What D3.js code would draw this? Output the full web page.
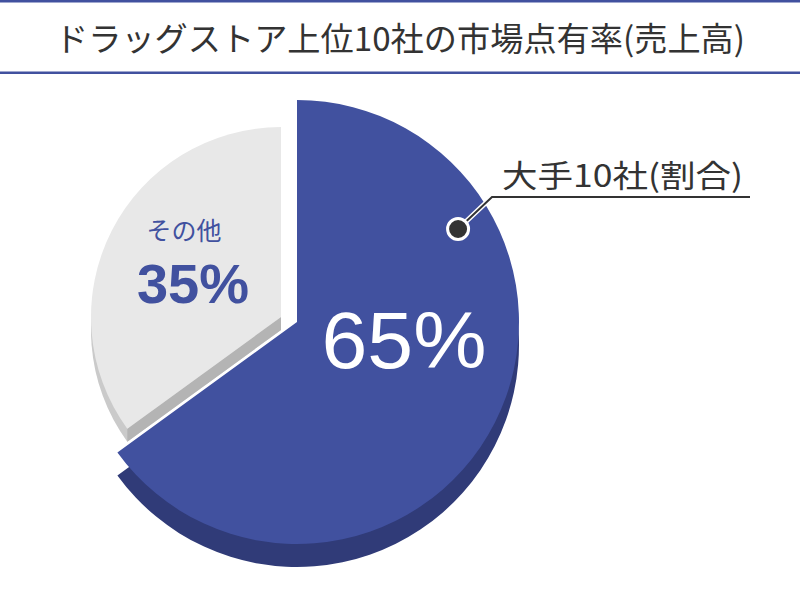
<!DOCTYPE html>
<html>
<head>
<meta charset="utf-8">
<script src="https://cdn.jsdelivr.net/npm/d3@7"></script>
<style>
  html, body { margin: 0; padding: 0; background: #fff; }
  svg { display: block; }
</style>
</head>
<body>
<svg id="chart" width="800" height="600"></svg>
<script>
// ---- data ----
const title = "ドラッグストア上位10社の市場点有率(売上高)";
const categories = ["大手10社(割合)", "その他"];
const shareValues = [65, 35];
const shareLabels = ["65%", "35%"];

// ---- styling ----
const blue = "#41519f";
const blueSide = "#303b78";
const gray = "#e8e8e8";
const grayArcSide = "#cacaca";
const grayEdgeSide = "#b4b4b4";
const textDark = "#333333";

const svg = d3.select("#chart");

// header lines
svg.append("rect").attr("x", 0).attr("y", 0).attr("width", 800).attr("height", 2.5).attr("fill", blue);
svg.append("rect").attr("x", 0).attr("y", 71.5).attr("width", 800).attr("height", 2.5).attr("fill", blue);

svg.append("text")
  .attr("x", 400).attr("y", 37)
  .attr("text-anchor", "middle")
  .attr("dominant-baseline", "central")
  .attr("font-family", "'Noto Sans CJK JP', 'Noto Sans', sans-serif")
  .attr("font-size", 33)
  .attr("textLength", 690)
  .attr("lengthAdjust", "spacingAndGlyphs")
  .attr("fill", textDark)
  .text(title);

// ---- pie ----
const data = categories.map((c, i) => ({ name: c, value: shareValues[i], label: shareLabels[i] }));
const pie = d3.pie().sort(null).value(d => d.value);
const arcs = pie(data);

// geometry per slice (main slice and exploded/smaller slice)
const geo = [
  { cx: 297, cy: 322, r: 222, depth: 23, face: blue, side: blueSide, edge: blueSide },
  { cx: 281, cy: 317, r: 190, depth: 13, face: gray, side: grayArcSide, edge: grayEdgeSide }
];

function drawSlice(a, g) {
  const arcGen = d3.arc().innerRadius(0).outerRadius(g.r);
  const grp = svg.append("g");
  // extrusion (outer wall)
  grp.append("path")
    .attr("transform", `translate(${g.cx},${g.cy + g.depth})`)
    .attr("d", arcGen(a))
    .attr("fill", g.side);
  // straight edge wall for start angle edge
  const ang = a.startAngle;
  const ex = g.cx + Math.sin(ang) * g.r, ey = g.cy - Math.cos(ang) * g.r;
  if (a.index === 1) {
    grp.append("path")
      .attr("d", d3.line()([[g.cx, g.cy], [ex, ey], [ex, ey + g.depth], [g.cx, g.cy + g.depth]]) + "Z")
      .attr("fill", g.edge);
  }
  // top face
  grp.append("path")
    .attr("transform", `translate(${g.cx},${g.cy})`)
    .attr("d", arcGen(a))
    .attr("fill", g.face);
}

// draw the small slice first, then the main slice
drawSlice(arcs[1], geo[1]);
drawSlice(arcs[0], geo[0]);

// ---- labels ----
svg.append("text")
  .attr("x", 404).attr("y", 368)
  .attr("text-anchor", "middle")
  .attr("font-family", "'Liberation Sans', Arial, sans-serif")
  .attr("font-size", 80)
  .attr("textLength", 165)
  .attr("lengthAdjust", "spacingAndGlyphs")
  .attr("fill", "#ffffff")
  .text(arcs[0].data.label);

svg.append("text")
  .attr("x", 184).attr("y", 228.5)
  .attr("text-anchor", "middle")
  .attr("dominant-baseline", "central")
  .attr("font-family", "'Noto Sans CJK JP', sans-serif")
  .attr("font-size", 25)
  .attr("fill", blue)
  .text(arcs[1].data.name);

svg.append("text")
  .attr("x", 193).attr("y", 303)
  .attr("text-anchor", "middle")
  .attr("font-family", "'Liberation Sans', Arial, sans-serif")
  .attr("font-weight", "bold")
  .attr("font-size", 56)
  .attr("fill", blue)
  .text(arcs[1].data.label);

// callout for main slice
const g0 = geo[0];
const calloutAngle = Math.PI / 3;
const dotR = 186;
const dot = [g0.cx + Math.sin(calloutAngle) * dotR, g0.cy - Math.cos(calloutAngle) * dotR];
const elbow = [492, 197];
svg.append("path")
  .attr("d", d3.line()([dot, elbow, [750, 197]]))
  .attr("fill", "none")
  .attr("stroke", "#ffffff")
  .attr("stroke-width", 5);
svg.append("path")
  .attr("d", d3.line()([dot, elbow, [750, 197]]))
  .attr("fill", "none")
  .attr("stroke", textDark)
  .attr("stroke-width", 2);
svg.append("circle")
  .attr("cx", dot[0]).attr("cy", dot[1]).attr("r", 10.5)
  .attr("fill", textDark)
  .attr("stroke", "#ffffff")
  .attr("stroke-width", 3);

svg.append("text")
  .attr("x", 502).attr("y", 173.5)
  .attr("dominant-baseline", "central")
  .attr("font-family", "'Noto Sans CJK JP', sans-serif")
  .attr("font-size", 31)
  .attr("textLength", 241)
  .attr("lengthAdjust", "spacingAndGlyphs")
  .attr("fill", textDark)
  .text(arcs[0].data.name);
</script>
</body>
</html>
